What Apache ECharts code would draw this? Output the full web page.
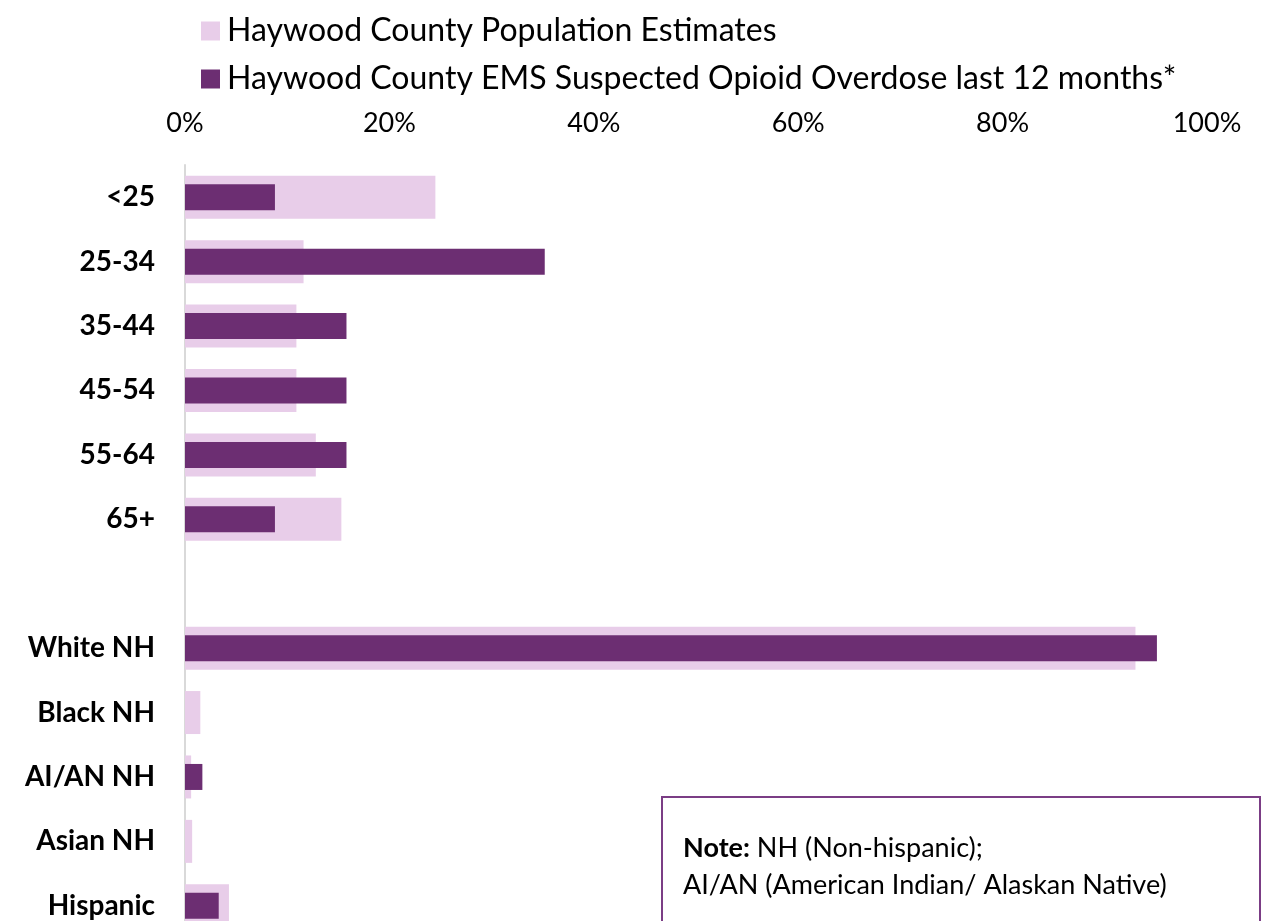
<!DOCTYPE html>
<html>
<head>
<meta charset="utf-8">
<script src="https://cdn.jsdelivr.net/npm/echarts@6/dist/echarts.min.js"></script>
<style>
html,body{margin:0;padding:0;background:#fff;overflow:hidden;}
#chart{width:1275px;height:945px;}
</style>
</head>
<body>
<div id="chart"></div>
<script>
const categories = ['<25','25-34','35-44','45-54','55-64','65+','','White NH','Black NH','AI/AN NH','Asian NH','Hispanic'];
const populationEstimates = [24.5, 11.6, 10.9, 10.9, 12.8, 15.3, null, 93.0, 1.5, 0.6, 0.7, 4.3];
const emsOverdose = [8.8, 35.2, 15.8, 15.8, 15.8, 8.8, null, 95.1, 0, 1.7, 0, 3.3];
const xTicks = [0, 20, 40, 60, 80, 100];
const seriesNames = ['Haywood County Population Estimates', 'Haywood County EMS Suspected Opioid Overdose last 12 months*'];
const noteBold = 'Note:';
const noteLine1 = ' NH (Non-hispanic);';
const noteLine2 = 'AI/AN (American Indian/ Alaskan Native)';

const chart = echarts.init(document.getElementById('chart'));
const FONT = 'Lato';
chart.setOption({
  animation: false,
  backgroundColor: '#ffffff',
  legend: {
    orient: 'vertical',
    left: 196,
    top: 10,
    itemWidth: 19,
    itemHeight: 19,
    itemGap: 16,
    icon: 'rect',
    textStyle: { fontFamily: FONT, fontSize: 32, color: '#000', lineHeight: 22, padding: [0, 0, 0, 2] },
    data: seriesNames
  },
  grid: { left: 185, right: 68, top: 165, height: 773, containLabel: false },
  xAxis: {
    type: 'value',
    position: 'top',
    min: xTicks[0],
    max: xTicks[xTicks.length - 1],
    interval: 20,
    axisLine: { show: false },
    axisTick: { show: false },
    splitLine: { show: false },
    axisLabel: {
      margin: 28,
      fontFamily: FONT,
      fontSize: 27,
      color: '#000',
      formatter: v => v + '%'
    }
  },
  yAxis: [
    {
      type: 'category',
      inverse: true,
      data: categories,
      axisLine: { show: true, lineStyle: { color: '#d9d9d9', width: 2 } },
      axisTick: { show: false },
      axisLabel: {
        margin: 30,
        fontFamily: FONT,
        fontWeight: 'bold',
        fontSize: 28,
        color: '#000'
      }
    },
    {
      type: 'category',
      inverse: true,
      position: 'left',
      data: categories,
      show: false
    }
  ],
  series: [
    {
      name: seriesNames[0],
      type: 'bar',
      yAxisIndex: 0,
      data: populationEstimates,
      barWidth: 43,
      itemStyle: { color: '#e8cde9' }
    },
    {
      name: seriesNames[1],
      type: 'bar',
      yAxisIndex: 1,
      data: emsOverdose,
      barWidth: 26,
      itemStyle: { color: '#6c2e72' },
      z: 3
    }
  ],
  graphic: [
    {
      type: 'rect',
      shape: { x: 662, y: 797, width: 598, height: 200 },
      style: { fill: '#ffffff', stroke: '#7b3d85', lineWidth: 2 },
      z: 100
    },
    {
      type: 'text',
      x: 683,
      y: 830,
      z: 101,
      style: {
        text: '{b|' + noteBold + '}{n|' + noteLine1 + '}\n{n|' + noteLine2 + '}',
        rich: {
          b: { fontFamily: FONT, fontWeight: 'bold', fontSize: 27, color: '#000', lineHeight: 37 },
          n: { fontFamily: FONT, fontSize: 27, color: '#000', lineHeight: 37 }
        }
      }
    }
  ]
});
</script>
</body>
</html>
